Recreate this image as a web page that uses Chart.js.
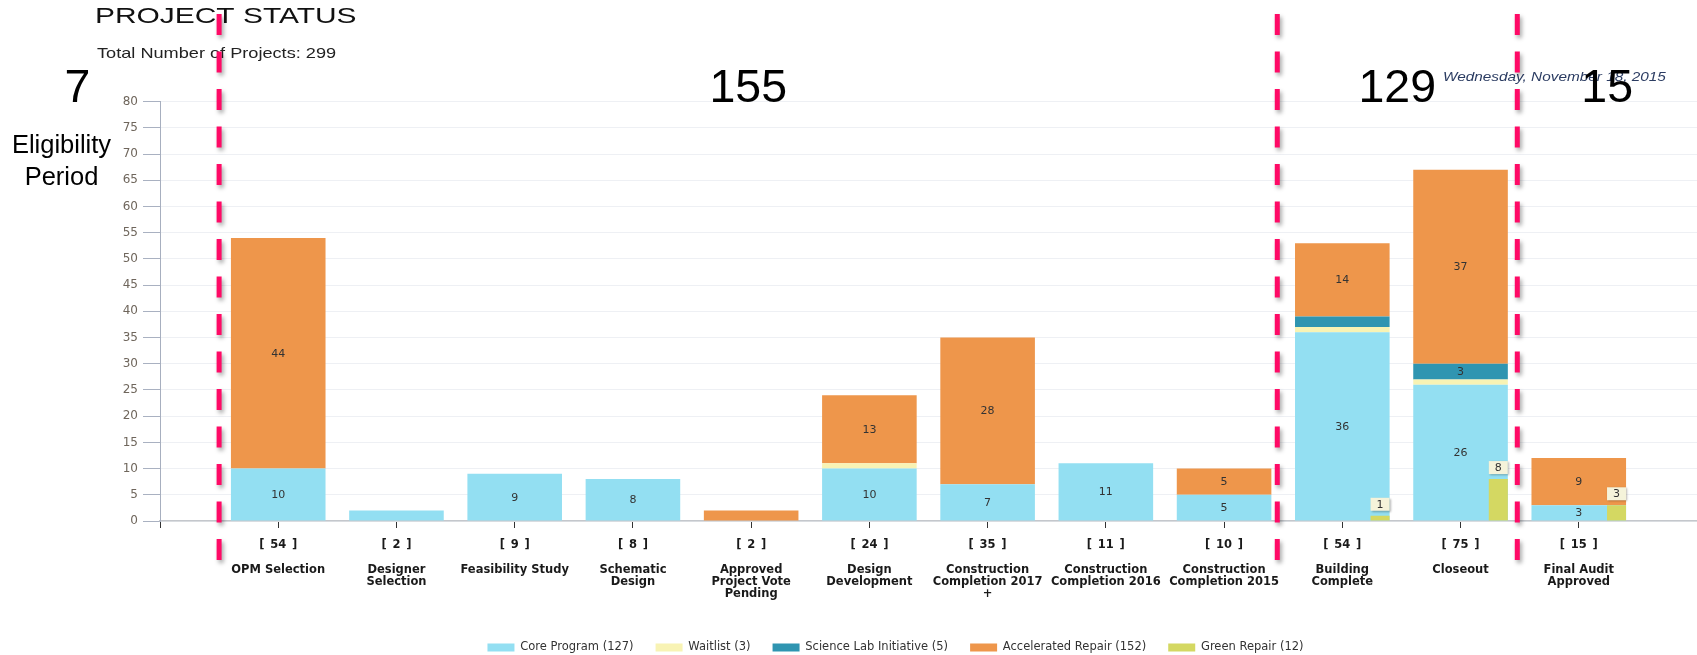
<!DOCTYPE html>
<html>
<head>
<meta charset="utf-8">
<title>Project Status</title>
<script src="https://cdn.jsdelivr.net/npm/chart.js@4.4.1/dist/chart.umd.min.js"></script>
<style>
  html, body { margin: 0; padding: 0; background: #ffffff; overflow: hidden; }
  #wrap { position: relative; width: 1697px; height: 655px; }
</style>
</head>
<body>
<div id="wrap"><canvas id="statusChart" width="1697" height="655"></canvas></div>
<script>
// ---- data -------------------------------------------------------------
const CATEGORIES = [
  'OPM Selection',
  'Designer\nSelection',
  'Feasibility Study',
  'Schematic\nDesign',
  'Approved\nProject Vote\nPending',
  'Design\nDevelopment',
  'Construction\nCompletion 2017\n+',
  'Construction\nCompletion 2016',
  'Construction\nCompletion 2015',
  'Building\nComplete',
  'Closeout',
  'Final Audit\nApproved'
];

const CORE_PROGRAM       = [10, 2, 9, 8, 0, 10, 7, 11, 5, 36, 26, 3];
const WAITLIST           = [0, 0, 0, 0, 0, 1, 0, 0, 0, 1, 1, 0];
const SCIENCE_LAB        = [0, 0, 0, 0, 0, 0, 0, 0, 0, 2, 3, 0];
const ACCELERATED_REPAIR = [44, 0, 0, 0, 2, 13, 28, 0, 5, 14, 37, 9];
const GREEN_REPAIR       = [0, 0, 0, 0, 0, 0, 0, 0, 0, 1, 8, 3];

const Y_TICKS = { min: 0, max: 80, step: 5 };

// eligibility-period annotation: counts per period and divider positions (category index units)
const PERIOD_COUNTS = ['7', '155', '129', '15'];
const DIVIDER_AT = [0.5, 9.45, 11.48];

const TITLE = 'PROJECT STATUS';
const SUBTITLE = 'Total Number of Projects: 299';
const REPORT_DATE = 'Wednesday, November 18, 2015';

// ---- derived ----------------------------------------------------------
const sum = a => a.reduce((s, v) => s + v, 0);
const TOTALS = CATEGORIES.map((_, i) =>
  CORE_PROGRAM[i] + WAITLIST[i] + SCIENCE_LAB[i] + ACCELERATED_REPAIR[i] + GREEN_REPAIR[i]);

// one empty slot on each side of the categories so the axis runs from the y axis to the right edge
const pad = arr => [null, ...arr, null];
const X_LABELS = pad(CATEGORIES.map((c, i) => ['[\u2002' + TOTALS[i] + '\u2002]', '', ...c.split('\n')]));
X_LABELS[0] = '';
X_LABELS[X_LABELS.length - 1] = '';

// bar geometry (fractions of the category step)
const MAIN_BAR_PCT = 0.8;
const GREEN_BAR_PCT = 0.161;
const GREEN_SHIFT = (MAIN_BAR_PCT - GREEN_BAR_PCT) / 2;   // green bar sits flush with the right edge

const COLORS = {
  core: '#93dff2',
  waitlist: '#f8f3b4',
  science: '#2f95b1',
  accelerated: '#ee964b',
  green: '#d4d862',
  divider: '#ff0a66'
};

function mainSeries(name, values, color) {
  return {
    label: name + ' (' + sum(values) + ')',
    data: pad(values),
    backgroundColor: color,
    borderWidth: 0,
    stack: 'projects',
    grouped: false,
    xAxisID: 'x',
    barPercentage: MAIN_BAR_PCT,
    categoryPercentage: 1,
    valueLabel: 'inside'
  };
}

const datasets = [
  mainSeries('Core Program', CORE_PROGRAM, COLORS.core),
  mainSeries('Waitlist', WAITLIST, COLORS.waitlist),
  mainSeries('Science Lab Initiative', SCIENCE_LAB, COLORS.science),
  mainSeries('Accelerated Repair', ACCELERATED_REPAIR, COLORS.accelerated),
  {
    label: 'Green Repair (' + sum(GREEN_REPAIR) + ')',
    data: GREEN_REPAIR.map((v, i) => ({ x: i + 1 + GREEN_SHIFT, y: v })),
    backgroundColor: COLORS.green,
    borderWidth: 0,
    stack: 'projects',          // own index axis, so it still stacks from zero
    grouped: false,
    order: -1,                  // drawn over the wide bars
    xAxisID: 'x2',
    barPercentage: GREEN_BAR_PCT,
    categoryPercentage: 1,
    valueLabel: 'callout'
  }
];

// ---- plugins ----------------------------------------------------------
const valueLabels = {
  id: 'valueLabels',
  afterDatasetsDraw(chart) {
    const ctx = chart.ctx;
    ctx.save();
    ctx.font = '11px "DejaVu Sans"';
    ctx.textAlign = 'center';
    ctx.textBaseline = 'middle';
    chart.data.datasets.forEach((ds, di) => {
      const meta = chart.getDatasetMeta(di);
      if (meta.hidden) return;
      meta.data.forEach((bar, i) => {
        const raw = ds.data[i];
        const value = raw && typeof raw === 'object' ? raw.y : raw;
        if (!value) return;
        if (ds.valueLabel === 'inside') {
          if (Math.abs(bar.base - bar.y) < 14) return;
          ctx.fillStyle = '#333333';
          ctx.fillText(String(value), bar.x, (bar.y + bar.base) / 2 + 0.5);
        } else {
          const w = bar.width, h = 13, bottom = bar.y - 5;
          ctx.save();
          ctx.shadowColor = 'rgba(0,0,0,0.28)';
          ctx.shadowBlur = 2;
          ctx.shadowOffsetX = 1;
          ctx.shadowOffsetY = 1;
          ctx.fillStyle = '#f5f3da';
          ctx.fillRect(bar.x - w / 2, bottom - h, w, h);
          ctx.restore();
          ctx.fillStyle = '#333333';
          ctx.fillText(String(value), bar.x, bottom - h / 2 + 0.5);
        }
      });
    });
    ctx.restore();
  }
};

// text drawn with a horizontal stretch
function stretchedText(ctx, text, x, y, sx) {
  ctx.save();
  ctx.translate(x, y);
  ctx.scale(sx, 1);
  ctx.fillText(text, 0, 0);
  ctx.restore();
}

const annotations = {
  id: 'annotations',
  afterDraw(chart) {
    const ctx = chart.ctx;
    const area = chart.chartArea;
    const xs = chart.scales.x2;
    const dividers = DIVIDER_AT.map(v => xs.getPixelForValue(v));

    ctx.save();
    ctx.textBaseline = 'alphabetic';
    ctx.textAlign = 'left';

    // heading
    ctx.fillStyle = '#111111';
    ctx.font = '22px "Liberation Sans"';
    stretchedText(ctx, TITLE, 95, 22.7, 1.36);
    ctx.fillStyle = '#222222';
    ctx.font = '15px "Liberation Sans"';
    stretchedText(ctx, SUBTITLE, 97, 57.5, 1.21);

    // report date
    ctx.fillStyle = '#2b3c62';
    ctx.font = 'italic 13px "Liberation Sans"';
    stretchedText(ctx, REPORT_DATE, 1443, 81, 1.18);

    // period counts
    const bounds = [[0, area.left], [dividers[0], dividers[1]], [dividers[1], dividers[2]], [dividers[2], area.right]];
    ctx.fillStyle = '#000000';
    ctx.textAlign = 'center';
    ctx.font = '46.5px "Liberation Sans"';
    PERIOD_COUNTS.forEach((t, i) => {
      const [a, b] = bounds[i];
      ctx.fillText(t, (a + b) / 2 - (i === 0 ? 2.5 : 0), 101.7);
    });

    ctx.font = '25.5px "Liberation Sans"';
    ctx.fillText('Eligibility', 61.5, 153.3);
    ctx.fillText('Period', 61.5, 185);

    // dashed period dividers
    ctx.strokeStyle = COLORS.divider;
    ctx.lineWidth = 5;
    ctx.setLineDash([21, 16.5]);
    ctx.shadowColor = 'rgba(0,0,0,0.35)';
    ctx.shadowBlur = 4;
    ctx.shadowOffsetX = 2;
    ctx.shadowOffsetY = 3;
    dividers.forEach(px => {
      ctx.beginPath();
      ctx.moveTo(px, 14);
      ctx.lineTo(px, 560);
      ctx.stroke();
    });
    ctx.restore();
  }
};

// ---- chart ------------------------------------------------------------
new Chart(document.getElementById('statusChart'), {
  type: 'bar',
  data: { labels: X_LABELS, datasets },
  options: {
    responsive: false,
    animation: false,
    layout: { padding: { left: 94, right: 0, top: 101.7, bottom: 0 } },
    scales: {
      x: {
        type: 'category',
        stacked: true,
        offset: false,
        grid: {
          offset: false,
          drawOnChartArea: false,
          drawTicks: true,
          tickLength: 7,
          tickColor: '#333333',
          tickWidth: 1
        },
        border: { color: '#c4c7cc', width: 1.5 },
        ticks: {
          autoSkip: false,
          maxRotation: 0,
          minRotation: 0,
          padding: 10.9,
          color: '#1a1a1a',
          font: { family: 'DejaVu Sans', size: 11.5, weight: 'bold', lineHeight: 1.07 }
        },
        afterFit(scale) {
          scale.height = 98.75;
          scale.paddingRight = 0;   // the axis runs to the right edge
        }
      },
      x2: {
        type: 'linear',
        display: false,
        stacked: true,
        min: 0,
        max: X_LABELS.length - 1,
        offset: false,
        ticks: { stepSize: 1, display: false },
        grid: { display: false }
      },
      y: {
        stacked: true,
        min: Y_TICKS.min,
        max: Y_TICKS.max,
        ticks: {
          stepSize: Y_TICKS.step,
          padding: 5,
          color: '#6f665c',
          font: { family: 'DejaVu Sans', size: 12 }
        },
        grid: {
          color: '#eef0f4',
          tickColor: '#a9b1c1',
          tickLength: 17,
          lineWidth: 1
        },
        border: { color: '#a7afbf', width: 1 },
        afterFit(scale) { scale.width = 66; }
      }
    },
    plugins: {
      legend: {
        position: 'bottom',
        maxHeight: 35.25,
        labels: {
          boxWidth: 27,
          boxHeight: 8,
          padding: 22,
          color: '#333333',
          font: { family: 'DejaVu Sans', size: 11.5 },
          sort: (a, b) => a.datasetIndex - b.datasetIndex
        }
      },
      tooltip: { enabled: false },
      title: { display: false }
    }
  },
  plugins: [valueLabels, annotations]
});
</script>
</body>
</html>
